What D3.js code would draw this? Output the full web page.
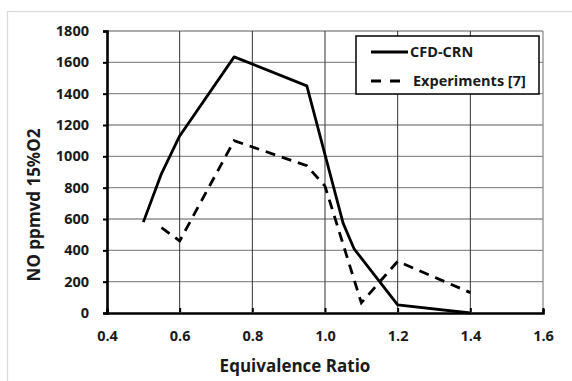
<!DOCTYPE html>
<html>
<head>
<meta charset="utf-8">
<script src="https://cdn.jsdelivr.net/npm/d3@7"></script>
<style>
  body { margin: 0; background: #fff; }
  svg { display: block; font-family: 'Open Sans', sans-serif; }
</style>
</head>
<body>
<div id="chart"></div>
<script>
// data
const cfdPhi = [0.5, 0.55, 0.6, 0.75, 0.95, 1.05, 1.08, 1.2, 1.4];
const cfdNO = [580, 890, 1130, 1635, 1450, 572, 410, 52, 0];
const expPhi = [0.55, 0.6, 0.75, 0.95, 1.0, 1.1, 1.2, 1.4];
const expNO = [545, 460, 1100, 940, 810, 65, 330, 130];
const xTicks = [0.4, 0.6, 0.8, 1.0, 1.2, 1.4, 1.6];
const yTicks = [0, 200, 400, 600, 800, 1000, 1200, 1400, 1600, 1800];
const seriesNames = ['CFD-CRN', 'Experiments [7]'];

const W = 572, H = 381;
const margin = { top: 31, right: 29, bottom: 68, left: 107 };
const width = W - margin.left - margin.right;
const height = H - margin.top - margin.bottom;

const x = d3.scaleLinear().domain([0.4, 1.6]).range([0, width]);
const y = d3.scaleLinear().domain([0, 1800]).range([height, 0]);

const root = d3.select('#chart').append('svg')
  .attr('width', W)
  .attr('height', H);

// outer chart frame
root.append('rect')
  .attr('x', 7.5).attr('y', 11.5)
  .attr('width', 600).attr('height', 400)
  .attr('fill', 'none')
  .attr('stroke', '#d9d9d9')
  .attr('stroke-width', 1.2);

const svg = root.append('g')
  .attr('transform', `translate(${margin.left},${margin.top})`);

// horizontal grid
svg.append('g')
  .selectAll('line')
  .data(yTicks.slice(1))
  .enter().append('line')
  .attr('x1', 0).attr('x2', width)
  .attr('y1', d => y(d)).attr('y2', d => y(d))
  .attr('stroke', '#8f8f8f')
  .attr('stroke-width', 1.3);

// vertical grid
svg.append('g')
  .selectAll('line')
  .data(xTicks.slice(1))
  .enter().append('line')
  .attr('x1', d => x(d)).attr('x2', d => x(d))
  .attr('y1', 0).attr('y2', height)
  .attr('stroke', d => d === 1.6 ? '#8f8f8f' : '#333')
  .attr('stroke-width', d => d === 1.6 ? 1.3 : 1);

// axes
const yAxis = d3.axisLeft(y).tickValues(yTicks).tickSize(4).tickPadding(14).tickFormat(d3.format('d'));
const xAxis = d3.axisBottom(x).tickValues(xTicks).tickSize(-4).tickPadding(18).tickFormat(d3.format('.1f'));

const gy = svg.append('g').call(yAxis);
const gx = svg.append('g').attr('transform', `translate(0,${height})`).call(xAxis);

[gx, gy].forEach(g => {
  g.select('.domain').attr('stroke', '#000').attr('stroke-width', 2.6);
  g.selectAll('.tick line').attr('stroke', '#000').attr('stroke-width', 2);
  g.selectAll('.tick text')
    .attr('fill', '#1a1a1a')
    .attr('font-size', 14.5)
    .attr('font-weight', 'bold')
    .attr('font-family', "'Open Sans', sans-serif");
});
gx.selectAll('.tick line').attr('transform', 'translate(0,-1)');

// axis titles
svg.append('text')
  .attr('x', 295 - margin.left)
  .attr('y', height + 59)
  .attr('text-anchor', 'middle')
  .attr('font-size', 17)
  .attr('font-weight', 'bold')
  .attr('fill', '#1a1a1a')
  .text('Equivalence Ratio');

svg.append('text')
  .attr('transform', 'rotate(-90)')
  .attr('x', -(205 - margin.top))
  .attr('y', 40 - margin.left)
  .attr('text-anchor', 'middle')
  .attr('font-size', 17)
  .attr('font-weight', 'bold')
  .attr('fill', '#1a1a1a')
  .text('NO ppmvd 15%O2');

// series
const line = d3.line().x(d => x(d[0])).y(d => y(d[1]));
const cfd = cfdPhi.map((p, i) => [p, cfdNO[i]]);
const exp = expPhi.map((p, i) => [p, expNO[i]]);

svg.append('path')
  .datum(exp)
  .attr('d', line)
  .attr('fill', 'none')
  .attr('stroke', '#000')
  .attr('stroke-width', 2.8)
  .attr('stroke-dasharray', '10,7');

svg.append('path')
  .datum(cfd)
  .attr('d', line)
  .attr('fill', 'none')
  .attr('stroke', '#000')
  .attr('stroke-width', 2.8)
  .attr('stroke-linejoin', 'round');

// legend
const lg = root.append('g').attr('transform', 'translate(356,36)');
lg.append('rect')
  .attr('width', 183).attr('height', 58)
  .attr('fill', '#fff')
  .attr('stroke', '#000')
  .attr('stroke-width', 1.5);

seriesNames.forEach((name, i) => {
  const ly = 16 + i * 29;
  lg.append('line')
    .attr('x1', 15).attr('x2', 52)
    .attr('y1', ly).attr('y2', ly)
    .attr('stroke', '#000')
    .attr('stroke-width', 2.8)
    .attr('stroke-dasharray', i === 1 ? '10,9' : null);
  lg.append('text')
    .attr('x', i === 1 ? 57 : 54)
    .attr('y', ly)
    .attr('dy', '0.35em')
    .attr('font-size', 14.5)
    .attr('font-weight', 'bold')
    .attr('fill', '#1a1a1a')
    .text(name);
});
</script>
</body>
</html>
